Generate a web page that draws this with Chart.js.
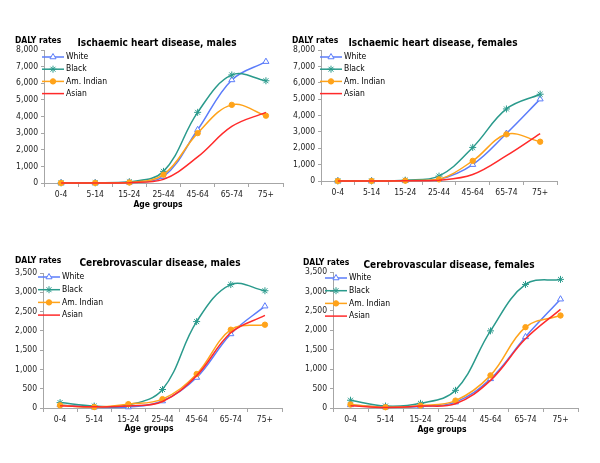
<!DOCTYPE html>
<html>
<head>
<meta charset="utf-8">
<script src="https://cdn.jsdelivr.net/npm/chart.js@4/dist/chart.umd.min.js"></script>
<style>
  html, body { margin: 0; padding: 0; background: #fff; }
  #wrap { position: relative; width: 600px; height: 463px; }
  #wrap canvas { position: absolute; left: 0; top: 0; }
</style>
</head>
<body>
<div id="wrap">
  <canvas id="c1" width="600" height="463"></canvas>
  <canvas id="c2" width="600" height="463"></canvas>
  <canvas id="c3" width="600" height="463"></canvas>
  <canvas id="c4" width="600" height="463"></canvas>
</div>
<script>
// Tasas DALY por grupo de edad, cuatro paneles (cardiopatía isquémica / cerebrovascular).
const AGE_GROUPS = ['0-4', '5-14', '15-24', '25-44', '45-64', '65-74', '75+'];
const SERIES_NAMES = ['White', 'Black', 'Am. Indian', 'Asian'];

// Ischaemic heart disease, males
const IHD_M_WHITE = [3, 5, 40, 380, 3200, 6200, 7300];
const IHD_M_BLACK = [5, 8, 70, 700, 4250, 6500, 6150];
const IHD_M_AMIND = [2, 5, 30, 500, 3000, 4700, 4050];
const IHD_M_ASIAN = [2, 3, 20, 220, 1570, 3400, 4250];

// Ischaemic heart disease, females
const IHD_F_WHITE = [2, 3, 20, 100, 1000, 2900, 5000];
const IHD_F_BLACK = [3, 5, 50, 300, 2050, 4400, 5300];
const IHD_F_AMIND = [2, 3, 20, 100, 1230, 2850, 2400];
const IHD_F_ASIAN = [1, 2, 10, 50, 400, 1550, 2900];

// Cerebrovascular disease, males
const CVD_M_WHITE = [80, 20, 25, 180, 790, 1920, 2640];
const CVD_M_BLACK = [140, 50, 80, 480, 2240, 3200, 3040];
const CVD_M_AMIND = [70, 25, 100, 230, 880, 2030, 2160];
const CVD_M_ASIAN = [60, 30, 50, 170, 840, 1950, 2400];

// Cerebrovascular disease, females
const CVD_F_WHITE = [80, 20, 40, 150, 750, 1830, 2800];
const CVD_F_BLACK = [200, 50, 120, 455, 1985, 3180, 3310];
const CVD_F_AMIND = [90, 20, 60, 190, 840, 2080, 2380];
const CVD_F_ASIAN = [60, 15, 50, 110, 710, 1780, 2540];

const IHD_Y_MAX = 8000, IHD_Y_STEP = 1000;
const CVD_Y_MAX = 3500, CVD_Y_STEP = 500;

const FONT = "'DejaVu Sans Condensed', 'DejaVu Sans', sans-serif";
const AXIS_COLOR = '#a6a6a6';
const SERIES_STYLE = [
  { color: '#5b7cfa', pointStyle: 'triangle', radius: 3.5, fill: '#ffffff' },
  { color: '#2a9a8c', pointStyle: 'star', radius: 3.5, fill: '#2a9a8c' },
  { color: '#ffa31a', pointStyle: 'circle', radius: 2.7, fill: '#ffa31a' },
  { color: '#ff2a2a', pointStyle: false, radius: 0, fill: '#ff2a2a' },
];

Chart.defaults.font.family = FONT;
Chart.defaults.font.size = 8.5;
Chart.defaults.color = '#222';

// textos y leyenda dibujados a mano (la leyenda va dentro del área del gráfico)
const panelText = {
  id: 'panelText',
  afterDraw(chart, args, opts) {
    const ctx = chart.ctx;
    ctx.save();
    ctx.fillStyle = '#000';
    ctx.textBaseline = 'middle';
    ctx.font = 'bold 8.5px ' + FONT;
    ctx.textAlign = 'left';
    ctx.fillText('DALY rates', opts.daly.x, opts.daly.y);
    if (opts.xTitle) {
      ctx.textAlign = 'center';
      ctx.fillText('Age groups', opts.xTitle.x, opts.xTitle.y);
    }
    ctx.font = 'bold 10px ' + FONT;
    ctx.textAlign = 'center';
    ctx.fillText(opts.title.text, opts.title.x, opts.title.y);

    ctx.font = '8.5px ' + FONT;
    ctx.textAlign = 'left';
    chart.data.datasets.forEach((ds, i) => {
      const y = opts.legend.y + i * opts.legend.gap;
      const x = opts.legend.x;
      ctx.strokeStyle = ds.borderColor;
      ctx.lineWidth = 1.5;
      ctx.beginPath();
      ctx.moveTo(x, y);
      ctx.lineTo(x + 22, y);
      ctx.stroke();
      if (ds.pointStyle) {
        ctx.fillStyle = ds.pointBackgroundColor;
        ctx.strokeStyle = ds.pointBorderColor;
        ctx.lineWidth = 1;
        Chart.helpers.drawPoint(ctx, { pointStyle: ds.pointStyle, radius: ds.pointRadius, borderWidth: 1, rotation: 0 }, x + 11, y);
      }
      ctx.fillStyle = '#000';
      ctx.fillText(ds.label, x + 24, y);
    });
    ctx.restore();
  },
};

function makePanel(canvasId, seriesData, yMax, yStep, layout) {
  const plot = layout.plot;
  const datasets = seriesData.map((values, i) => {
    const s = SERIES_STYLE[i];
    return {
      label: SERIES_NAMES[i],
      data: values,
      borderColor: s.color,
      borderWidth: 1.5,
      tension: 0.38,
      pointStyle: s.pointStyle,
      pointRadius: s.radius,
      pointBackgroundColor: s.fill,
      pointBorderColor: s.color,
      pointBorderWidth: 1,
      order: 4 - i,
      clip: 6,
    };
  });

  return new Chart(document.getElementById(canvasId), {
    type: 'line',
    data: { labels: AGE_GROUPS, datasets },
    options: {
      responsive: false,
      animation: false,
      devicePixelRatio: 1,
      events: [],
      layout: {
        autoPadding: false,
        padding: { left: 0, top: plot.t, right: 600 - plot.r, bottom: 463 - plot.b - 30 },
      },
      plugins: {
        legend: { display: false },
        tooltip: { enabled: false },
        panelText: layout,
      },
      scales: {
        x: {
          type: 'category',
          offset: true,
          afterFit: (scale) => { scale.height = 30; },
          grid: { offset: true, drawOnChartArea: false, drawTicks: true, tickLength: 4, color: AXIS_COLOR },
          border: { color: AXIS_COLOR },
          ticks: { padding: 3, maxRotation: 0, autoSkip: false, color: '#222' },
        },
        y: {
          min: 0,
          max: yMax,
          afterFit: (scale) => { scale.width = plot.l; },
          grid: { drawOnChartArea: false, drawTicks: true, tickLength: 3, color: AXIS_COLOR },
          border: { color: AXIS_COLOR },
          ticks: {
            stepSize: yStep,
            padding: 3,
            color: '#222',
            callback: (v) => Number(v).toLocaleString('en-US'),
          },
        },
      },
    },
    plugins: [panelText],
  });
}

makePanel('c1', [IHD_M_WHITE, IHD_M_BLACK, IHD_M_AMIND, IHD_M_ASIAN], IHD_Y_MAX, IHD_Y_STEP, {
  plot: { l: 44, t: 50, r: 283, b: 183 },
  daly: { x: 15, y: 41 },
  title: { x: 157, y: 43, text: 'Ischaemic heart disease, males' },
  xTitle: { x: 158, y: 205 },
  legend: { x: 42, y: 57, gap: 12.2 },
});

makePanel('c2', [IHD_F_WHITE, IHD_F_BLACK, IHD_F_AMIND, IHD_F_ASIAN], IHD_Y_MAX, IHD_Y_STEP, {
  plot: { l: 321, t: 50, r: 557, b: 181 },
  daly: { x: 292, y: 41 },
  title: { x: 433, y: 43, text: 'Ischaemic heart disease, females' },
  xTitle: null,
  legend: { x: 320, y: 57, gap: 12.2 },
});

makePanel('c3', [CVD_M_WHITE, CVD_M_BLACK, CVD_M_AMIND, CVD_M_ASIAN], CVD_Y_MAX, CVD_Y_STEP, {
  plot: { l: 43, t: 273, r: 282, b: 408 },
  daly: { x: 15, y: 261 },
  title: { x: 160, y: 263, text: 'Cerebrovascular disease, males' },
  xTitle: { x: 149, y: 429 },
  legend: { x: 38, y: 277, gap: 12.7 },
});

makePanel('c4', [CVD_F_WHITE, CVD_F_BLACK, CVD_F_AMIND, CVD_F_ASIAN], CVD_Y_MAX, CVD_Y_STEP, {
  plot: { l: 333, t: 272, r: 578, b: 408 },
  daly: { x: 303, y: 263 },
  title: { x: 449, y: 265, text: 'Cerebrovascular disease, females' },
  xTitle: { x: 442, y: 430 },
  legend: { x: 325, y: 278, gap: 12.7 },
});
</script>
</body>
</html>
